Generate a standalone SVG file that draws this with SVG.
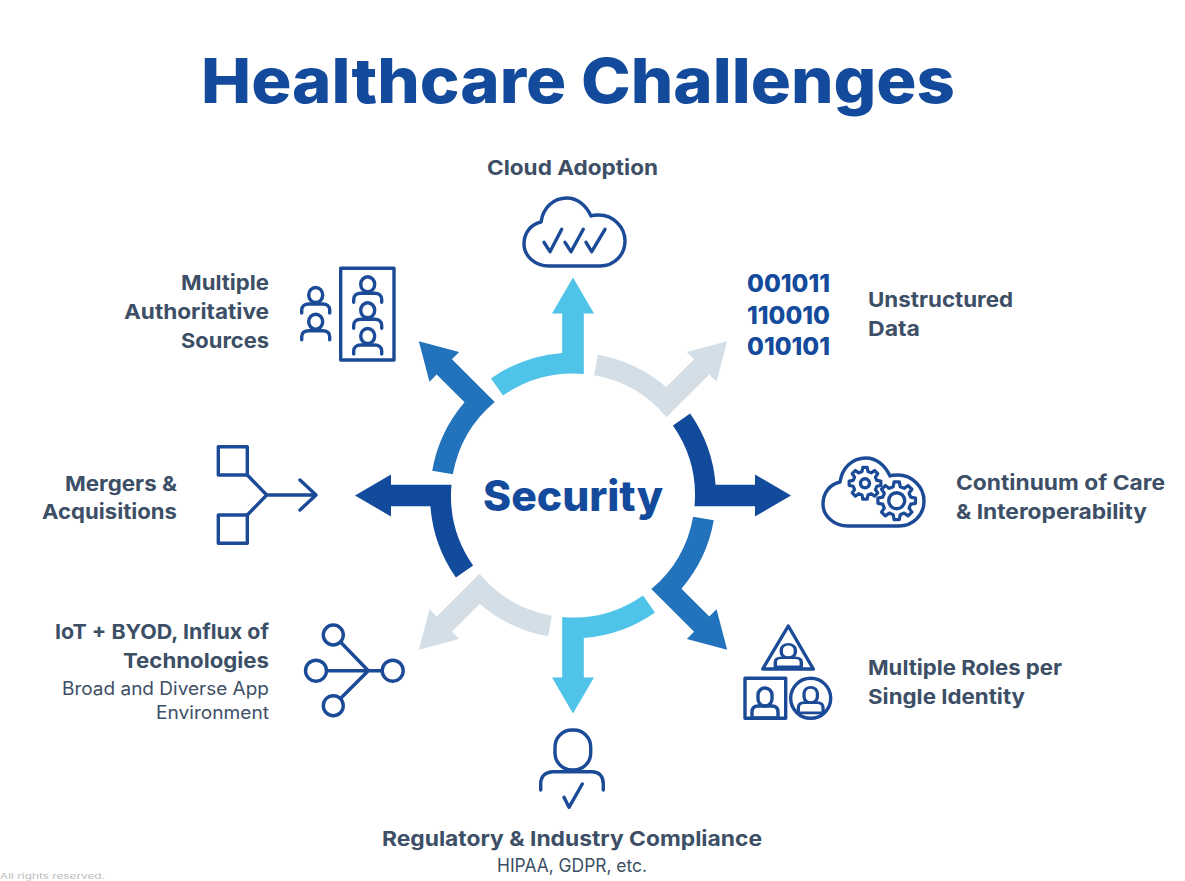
<svg xmlns="http://www.w3.org/2000/svg" xmlns:xlink="http://www.w3.org/1999/xlink" width="1185" height="881" viewBox="0 0 1185 881">
<style>
text{font-family:"Inter","Liberation Sans",sans-serif}
.t{font-weight:800;fill:#134A9B}
.l{font-size:20.5px;font-weight:700;fill:#3D4F66}
.s{font-size:18px;font-weight:400;fill:#3D4F66}
.e{text-anchor:end}
.b{font-size:24px;font-weight:800;fill:#134A9B}
.i{fill:none;stroke:#1B4A97;stroke-width:3.4;stroke-linecap:round;stroke-linejoin:round}
.a1{fill:#124A9C}.a2{fill:#2372BC}.a3{fill:#4FC3E8}.a4{fill:#D3DEE6}
</style>
<defs>
<path id="arrow" d="M0,-218 L21,-182 H10.8 V-121.5 A122 122 0 0 0 -70,-99.9 L-82,-117.1 A143 143 0 0 1 -10.8,-142.6 V-182 H-21 Z"/>
<path id="cloud" d="M549,266 H600 C614,266 625,255 625,241 C625,227 613,215 599,215 C596,215 593,215 591,216 C586,205 577,198 567,198 C553,198 543,208 541,222 C531,224 524,233 524,244 C524,256 535,266 549,266 Z"/>
<g id="person"><ellipse cx="0" cy="0" rx="7" ry="7.5"/><path d="M-14,18 V15 C-14,11 -11,9 -7,9 H7 C11,9 14,11 14,15 V18"/></g>
<g id="bust"><rect x="-7" y="-9" width="14" height="18" rx="7"/><path d="M-13,21 V15 Q-13,9 -7,9 H7 Q13,9 13,15 V21 Z"/></g>
<path id="gear" d="M73.7,-18.4 L99,-13.9 L99,13.9 L73.7,18.4 L65.1,39.1 L79.9,60.2 L60.2,79.9 L39.1,65.1 L18.4,73.7 L13.9,99 L-13.9,99 L-18.4,73.7 L-39.1,65.1 L-60.2,79.9 L-79.9,60.2 L-65.1,39.1 L-73.7,18.4 L-99,13.9 L-99,-13.9 L-73.7,-18.4 L-65.1,-39.1 L-79.9,-60.2 L-60.2,-79.9 L-39.1,-65.1 L-18.4,-73.7 L-13.9,-99 L13.9,-99 L18.4,-73.7 L39.1,-65.1 L60.2,-79.9 L79.9,-60.2 L65.1,-39.1 Z"/>
</defs>
<rect width="1185" height="881" fill="#fff"/>
<text id="title" class="t" x="201" y="103" font-size="62.5" textLength="754" lengthAdjust="spacingAndGlyphs">Healthcare Challenges</text>

<g id="connectors">
<use href="#arrow" class="a3" transform="translate(573 495.5)"/>
<use href="#arrow" class="a4" transform="translate(573 495.5) rotate(45)"/>
<use href="#arrow" class="a1" transform="translate(573 495.5) rotate(90)"/>
<use href="#arrow" class="a2" transform="translate(573 495.5) rotate(135)"/>
<use href="#arrow" class="a3" transform="translate(573 495.5) rotate(180)"/>
<use href="#arrow" class="a4" transform="translate(573 495.5) rotate(225)"/>
<use href="#arrow" class="a1" transform="translate(573 495.5) rotate(270)"/>
<use href="#arrow" class="a2" transform="translate(573 495.5) rotate(315)"/>
</g>

<g id="security"><text class="t" x="483" y="510.5" font-size="42" textLength="180" lengthAdjust="spacingAndGlyphs">Security</text></g>

<g id="cloud-adoption">
<text class="l" x="487" y="175" textLength="171" lengthAdjust="spacingAndGlyphs">Cloud Adoption</text>
<use href="#cloud" class="i"/>
<path class="i" d="M544,242.3 L550,251.7 L561.7,229.3 M565,242.3 L571,251.7 L583.3,229.3 M586,242.3 L591.7,251.7 L605,229.3"/>
</g>

<g id="unstructured-data">
<text class="b" x="747" y="292" textLength="83" lengthAdjust="spacingAndGlyphs">001011</text>
<text class="b" x="747" y="323.5" textLength="83" lengthAdjust="spacingAndGlyphs">110010</text>
<text class="b" x="747" y="355" textLength="83" lengthAdjust="spacingAndGlyphs">010101</text>
<text class="l" x="868" y="307" textLength="145" lengthAdjust="spacingAndGlyphs">Unstructured</text>
<text class="l" x="868" y="336" textLength="52" lengthAdjust="spacingAndGlyphs">Data</text>
</g>

<g id="continuum">
<use href="#cloud" class="i" transform="translate(299 260)"/>
<use href="#gear" class="i" transform="translate(865 483.3) scale(.16)" style="stroke-width:20"/>
<circle class="i" cx="865" cy="483.3" r="4.5"/>
<use href="#gear" class="i" transform="translate(896.7 500.7) scale(.19)" style="stroke-width:17"/>
<circle class="i" cx="896.7" cy="500.7" r="8"/>
<text class="l" x="956" y="490" textLength="209" lengthAdjust="spacingAndGlyphs">Continuum of Care</text>
<text class="l" x="956" y="519" textLength="191" lengthAdjust="spacingAndGlyphs">&amp; Interoperability</text>
</g>

<g id="multiple-roles">
<path class="i" d="M788.3,626 L813.3,669 H762.7 Z"/>
<use href="#bust" class="i" transform="translate(788.3 651) scale(1 .75)"/>
<rect class="i" x="745" y="678.3" width="40.7" height="40"/>
<use href="#bust" class="i" transform="translate(765 697)"/>
<circle class="i" cx="810.7" cy="698.3" r="20"/>
<use href="#bust" class="i" transform="translate(810.7 695) scale(.95 .85)"/>
<text class="l" x="868" y="675" textLength="194" lengthAdjust="spacingAndGlyphs">Multiple Roles per</text>
<text class="l" x="868" y="704" textLength="157" lengthAdjust="spacingAndGlyphs">Single Identity</text>
</g>

<g id="compliance">
<rect class="i" x="555" y="730" width="35.7" height="40" rx="17"/>
<path class="i" d="M540.7,790 V784 C540.7,776 546,771.7 553,771.7 H592 C599,771.7 603.3,776 603.3,784 V790"/>
<path class="i" d="M564,797.3 L569,807.3 L582.3,784"/>
<text class="l" x="382" y="846" textLength="380" lengthAdjust="spacingAndGlyphs">Regulatory &amp; Industry Compliance</text>
<text class="s" x="497" y="872" textLength="150" lengthAdjust="spacingAndGlyphs">HIPAA, GDPR, etc.</text>
</g>

<g id="iot">
<circle class="i" cx="333.3" cy="635" r="10"/>
<circle class="i" cx="316" cy="670.7" r="10.5"/>
<circle class="i" cx="392.7" cy="670.7" r="10.5"/>
<circle class="i" cx="333.3" cy="705.7" r="10"/>
<path class="i" d="M340.5,642 L368.3,670.7 L340.5,698.5 M326.5,670.7 H382.2"/>
<text class="l e" x="269" y="639" textLength="214" lengthAdjust="spacingAndGlyphs">IoT + BYOD, Influx of</text>
<text class="l e" x="269" y="668" textLength="146" lengthAdjust="spacingAndGlyphs">Technologies</text>
<text class="s e" x="269" y="695" textLength="207" lengthAdjust="spacingAndGlyphs">Broad and Diverse App</text>
<text class="s e" x="269" y="719" textLength="113" lengthAdjust="spacingAndGlyphs">Environment</text>
</g>

<g id="mergers">
<rect class="i" x="218.3" y="446.7" width="29" height="28.3"/>
<rect class="i" x="218.3" y="515" width="29" height="28.3"/>
<path class="i" d="M247.3,475 L266.7,495 L247.3,515 M266.7,495 H316 M300,480 L316,495 L300,510"/>
<text class="l e" x="177" y="491" textLength="112" lengthAdjust="spacingAndGlyphs">Mergers &amp;</text>
<text class="l e" x="177" y="519" textLength="135" lengthAdjust="spacingAndGlyphs">Acquisitions</text>
</g>

<g id="authoritative">
<rect class="i" x="340.7" y="268.3" width="53.3" height="91.7"/>
<use href="#person" class="i" transform="translate(367.7 284.3)"/>
<use href="#person" class="i" transform="translate(367.7 310.3)"/>
<use href="#person" class="i" transform="translate(367.7 336)"/>
<use href="#person" class="i" transform="translate(315.7 295)"/>
<use href="#person" class="i" transform="translate(315.7 321.7)"/>
<text class="l e" x="269" y="290" textLength="88" lengthAdjust="spacingAndGlyphs">Multiple</text>
<text class="l e" x="269" y="319" textLength="145" lengthAdjust="spacingAndGlyphs">Authoritative</text>
<text class="l e" x="269" y="348" textLength="88" lengthAdjust="spacingAndGlyphs">Sources</text>
</g>
<text x="0" y="879" font-size="7.5" fill="#bbb" textLength="105" lengthAdjust="spacingAndGlyphs">All rights reserved.</text>
</svg>
